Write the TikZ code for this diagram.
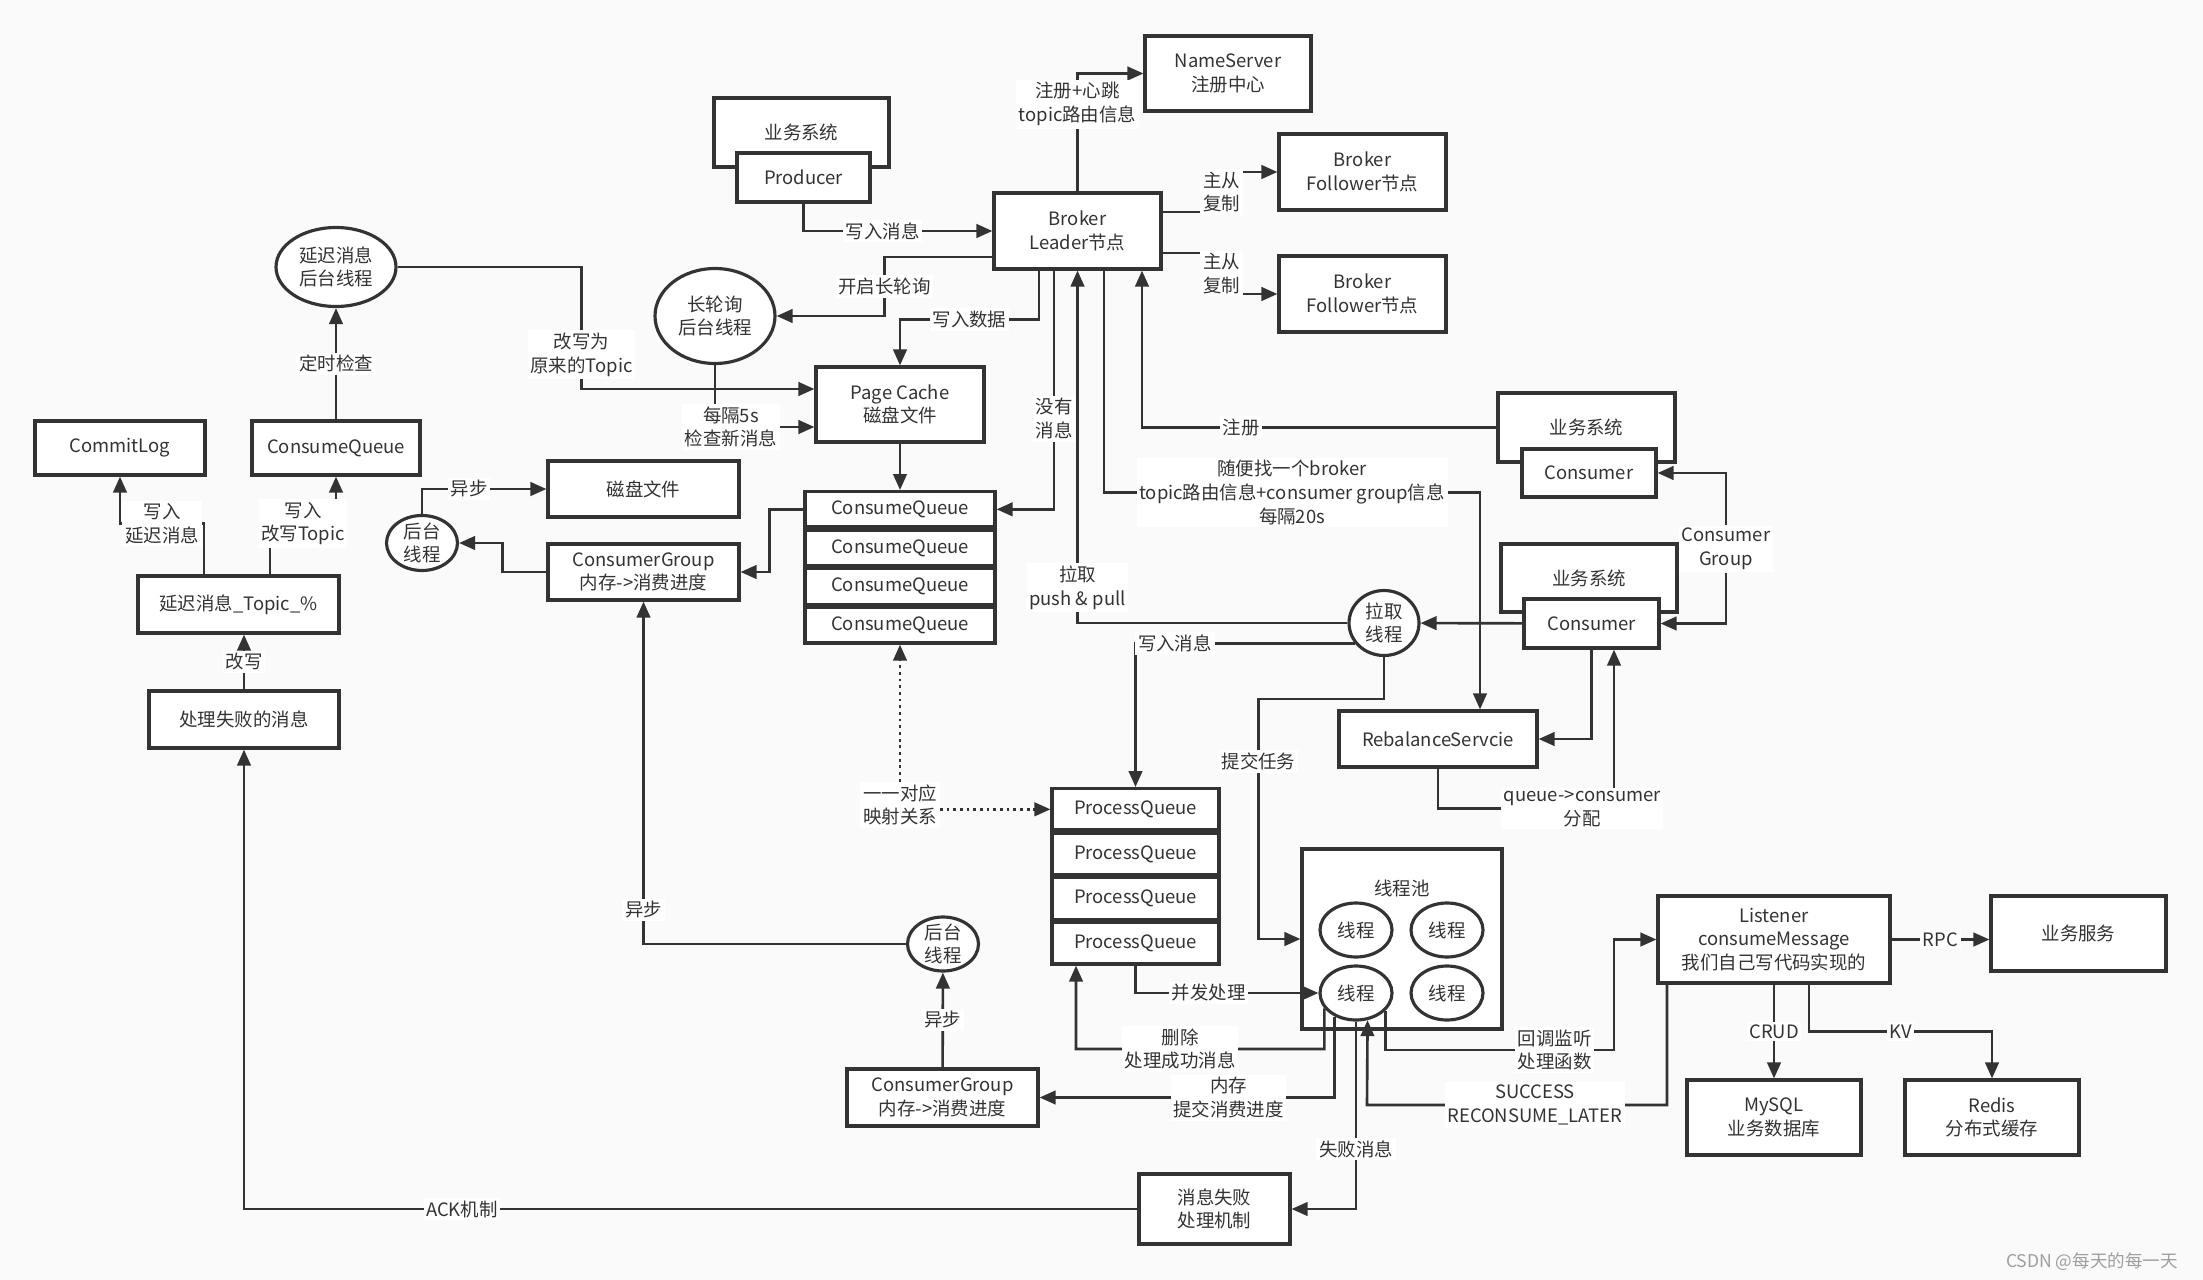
\documentclass[tikz,border=0pt]{standalone}
\usepackage{fontspec}
\setmainfont{Noto Sans CJK SC}
\usepackage{tikz}
\usetikzlibrary{arrows.meta, positioning, shapes.geometric, calc}
\definecolor{mqink}{HTML}{333333}
\definecolor{mqpaper}{HTML}{FAFAFA}
\tikzset{
  mqbox/.style={draw=mqink, fill=white, line width=1.8pt, align=center, inner sep=2pt},
  mqthread/.style={ellipse, draw=mqink, fill=white, line width=1.8pt, align=center, inner sep=0pt},
  mqsmall/.style={mqthread, inner sep=-3pt},
  mqlabel/.style={fill=white, align=center, inner sep=1.5pt},
  mqflow/.style={draw=mqink, line width=1.5pt, -{Triangle[length=0.32cm, width=0.27cm]}},
  mqdots/.style={mqflow, dash pattern=on 1.6pt off 2.2pt},
}

\begin{document}
\begin{tikzpicture}[x=0.02cm, y=-0.02cm, font=\fontsize{10.5}{13.5}\selectfont, text=mqink]
    \fill[mqpaper] (0,0) rectangle (2203,1280);

    % Producer side and broker
    \node[mqbox, minimum width=3.5cm, minimum height=1.38cm] (bizprod) at (801.5,132.5) {业务系统};
    \node[mqbox, minimum width=2.66cm, minimum height=0.98cm] (producer) at (803.5,177.5) {Producer};
    \node[mqbox, minimum width=3.32cm, minimum height=1.5cm] (namesrv) at (1228,73.5) {NameServer\\注册中心};
    \node[mqbox, minimum width=3.34cm, minimum height=1.52cm] (leader) at (1077.5,231) {Broker\\Leader节点};
    \node[mqbox, minimum width=3.34cm, minimum height=1.52cm] (follower1) at (1362.5,172) {Broker\\Follower节点};
    \node[mqbox, minimum width=3.34cm, minimum height=1.52cm] (follower2) at (1362.5,294) {Broker\\Follower节点};

    % Store
    \node[mqthread, minimum width=2.4cm, minimum height=1.58cm] (delaythr) at (336,267) {延迟消息\\后台线程};
    \node[mqthread, minimum width=2.4cm, minimum height=1.9cm] (pollthr) at (715,316) {长轮询\\后台线程};
    \node[mqbox, minimum width=3.36cm, minimum height=1.5cm] (pagecache) at (900,404.5) {Page Cache\\磁盘文件};
    \node[mqbox, minimum width=3.8cm, minimum height=0.71cm, anchor=north] (cq1) at (900,490) {ConsumeQueue};
    \node[mqbox, minimum width=3.8cm, minimum height=0.71cm, below=0pt of cq1] (cq2) {ConsumeQueue};
    \node[mqbox, minimum width=3.8cm, minimum height=0.71cm, below=0pt of cq2] (cq3) {ConsumeQueue};
    \node[mqbox, minimum width=3.8cm, minimum height=0.71cm, below=0pt of cq3] (cq4) {ConsumeQueue};
    \node[mqbox, minimum width=3.82cm, minimum height=1.12cm] (diskfile) at (643.5,489) {磁盘文件};
    \node[mqbox, minimum width=3.82cm, minimum height=1.12cm] (cgtop) at (643.5,572) {ConsumerGroup\\内存->消费进度};
    \node[mqsmall, minimum width=1.42cm, minimum height=1.1cm] (bgtop) at (422,543) {后台\\线程};

    % Delayed messages
    \node[mqbox, minimum width=3.4cm, minimum height=1.08cm] (commitlog) at (120,448) {CommitLog};
    \node[mqbox, minimum width=3.36cm, minimum height=1.08cm] (cqleft) at (336,448) {ConsumeQueue};
    \node[mqbox, minimum width=4.02cm, minimum height=1.14cm] (delaytopic) at (238.5,604.5) {延迟消息\_Topic\_\%};
    \node[mqbox, minimum width=3.8cm, minimum height=1.14cm] (failmsg) at (244,719.5) {处理失败的消息};

    % Consumer side
    \node[mqbox, minimum width=3.54cm, minimum height=1.38cm] (bizcons1) at (1586.5,427.5) {业务系统};
    \node[mqbox, minimum width=2.68cm, minimum height=0.96cm] (consumer1) at (1589,473) {Consumer};
    \node[mqbox, minimum width=3.52cm, minimum height=1.36cm] (bizcons2) at (1589,578) {业务系统};
    \node[mqbox, minimum width=2.7cm, minimum height=0.98cm] (consumer2) at (1591.5,623.5) {Consumer};
    \node[mqlabel] (cglbl) at (1726,549) {Consumer\\Group};
    \node[mqsmall, minimum width=1.4cm, minimum height=1.3cm] (pullthr) at (1384,623) {拉取\\线程};
    \node[mqbox, minimum width=3.96cm, minimum height=1.12cm] (rebalance) at (1438,739) {RebalanceServcie};
    \node[mqbox, minimum width=3.34cm, minimum height=0.83cm, anchor=north] (pq1) at (1135.5,787) {ProcessQueue};
    \node[mqbox, minimum width=3.34cm, minimum height=0.83cm, below=0pt of pq1] (pq2) {ProcessQueue};
    \node[mqbox, minimum width=3.34cm, minimum height=0.83cm, below=0pt of pq2] (pq3) {ProcessQueue};
    \node[mqbox, minimum width=3.34cm, minimum height=0.83cm, below=0pt of pq3] (pq4) {ProcessQueue};
    \node[mqlabel] (maplbl) at (900,805) {一一对应\\映射关系};

    % Thread pool
    \node[mqbox, minimum width=4cm, minimum height=3.6cm] (pool) at (1402,939) {};
    \node (pooltitle) at (1402,888) {线程池};
    \node[mqthread, minimum width=1.44cm, minimum height=1.08cm] (t1) at (1356,930) {线程};
    \node[mqthread, minimum width=1.44cm, minimum height=1.08cm] (t2) at (1447,930) {线程};
    \node[mqthread, minimum width=1.44cm, minimum height=1.08cm] (t3) at (1356,993) {线程};
    \node[mqthread, minimum width=1.44cm, minimum height=1.08cm] (t4) at (1447,993) {线程};

    \node[mqbox, minimum width=4.64cm, minimum height=1.74cm] (listener) at (1774,939.5) {Listener\\consumeMessage\\我们自己写代码实现的};
    \node[mqbox, minimum width=3.5cm, minimum height=1.5cm] (bizsvc) at (2078.5,933.5) {业务服务};
    \node[mqbox, minimum width=3.48cm, minimum height=1.5cm] (mysql) at (1774,1117.5) {MySQL\\业务数据库};
    \node[mqbox, minimum width=3.48cm, minimum height=1.5cm] (redis) at (1992,1117.5) {Redis\\分布式缓存};
    \node[mqbox, minimum width=3.02cm, minimum height=1.4cm] (failmech) at (1214.5,1209) {消息失败\\处理机制};
    \node[mqbox, minimum width=3.82cm, minimum height=1.14cm] (cgbot) at (942.5,1097.5) {ConsumerGroup\\内存->消费进度};
    \node[mqsmall, minimum width=1.42cm, minimum height=1.08cm] (bgbot) at (943,944) {后台\\线程};

    \node[text=gray!75, font=\fontsize{10}{12}\selectfont] (watermark) at (2092,1262) {CSDN @每天的每一天};

    % Broker connections
    \draw[mqflow] (producer) |- node[mqlabel, pos=0.71] {写入消息} (leader);
    \draw[mqflow] (leader) |- node[mqlabel, pos=0.37] {注册+心跳\\topic路由信息} (namesrv);
    \draw[mqflow] ([yshift=0.38cm]leader.east) -- ++(59,0) |- node[mqlabel, pos=0.25] {主从\\复制} (follower1);
    \draw[mqflow] ([yshift=-0.44cm]leader.east) -- ++(59,0) |- node[mqlabel, pos=0.25] {主从\\复制} (follower2);
    \draw[mqflow] ([yshift=-0.52cm]leader.west) -- ++(-108,0) |- node[mqlabel, pos=0.25] {开启长轮询} (pollthr);
    \draw[mqflow] ([xshift=-0.77cm]leader.south) -- ++(0,49) -| node[mqlabel, pos=0.25] {写入数据} (pagecache);
    \draw[mqflow] (delaythr.east) -- ++(184,0) |- node[mqlabel, pos=0.36] {改写为\\原来的Topic} ([yshift=0.31cm]pagecache.west);
    \draw[mqflow] (pollthr.south) |- node[mqlabel, pos=0.58] {每隔5s\\检查新消息} ([yshift=-0.45cm]pagecache.west);
    \draw[mqflow] (pagecache) -- (cq1);
    \draw[mqflow] ([xshift=-0.47cm]leader.south) |- node[mqlabel, pos=0.31] {没有\\消息} (cq1.east);
    \draw[mqflow] (pullthr) -| node[mqlabel, pos=0.55] {拉取\\push \& pull} (leader);
    \draw[mqflow] (bizcons1) -| node[mqlabel, pos=0.36] {注册} ([xshift=1.29cm]leader.south);
    \draw[mqflow] ([xshift=0.53cm]leader.south) -- ++(0,222) -| node[mqlabel, pos=0.25] {随便找一个broker\\topic路由信息+consumer group信息\\每隔20s} ([xshift=0.84cm]rebalance.north);

    % Store internals
    \draw[mqflow] (cq1.west) -- ++(-34,0) |- (cgtop);
    \draw[mqflow] (cgtop.west) -- ++(-44,0) |- (bgtop);
    \draw[mqflow] (bgtop) |- node[mqlabel, pos=0.69] {异步} (diskfile);
    \draw[mqflow] (bgbot) -| node[mqlabel, pos=0.55] {异步} (cgtop);
    \draw[mqflow] (cgbot) -- node[mqlabel] {异步} (bgbot);

    % Delayed messages
    \draw[mqflow] (cqleft) -- node[mqlabel] {定时检查} (delaythr);
    \draw[mqflow] ([xshift=-0.69cm]delaytopic.north) -- ++(0,-51) -| node[mqlabel, pos=0.25] {写入\\延迟消息} (commitlog);
    \draw[mqflow] ([xshift=0.63cm]delaytopic.north) -- ++(0,-51) -| node[mqlabel, pos=0.25] {写入\\改写Topic} (cqleft);
    \draw[mqflow] (failmsg) -- node[mqlabel] {改写} (failmsg.north |- delaytopic.south);
    \draw[mqflow] (failmech) -| node[mqlabel, pos=0.378] {ACK机制} (failmsg);

    % Consumer side
    \draw[mqflow] (cglbl) |- (consumer1);
    \draw[mqflow] (cglbl) |- (consumer2);
    \draw[mqflow] (consumer2) -- (pullthr);
    \draw[mqflow] (consumer2) |- (rebalance);
    \draw[mqflow] (rebalance.south) -- ++(0,40) -| node[mqlabel, pos=0.41] {queue->consumer\\分配} ([xshift=0.45cm]consumer2.south);
    \draw[mqflow] (pullthr.215) -| node[mqlabel, pos=0.41] {写入消息} (pq1);
    \draw[mqflow] (pullthr.south) -- ++(0,42) -| node[mqlabel, pos=0.63] {提交任务} ([xshift=-0.84cm]pool.west) -- (pool.west);
    \draw[mqdots] (maplbl) -- (cq4);
    \draw[mqdots] (maplbl.east |- pq1.west) -- (pq1.west);

    % Thread pool
    \draw[mqflow] (pq4) |- node[mqlabel, pos=0.7] {并发处理} (t3);
    \draw[mqflow] (t3.206) |- node[mqlabel, pos=0.79] {删除\\处理成功消息} (1076,1049) -- ([xshift=-1.19cm]pq4.south);
    \draw[mqflow] (t3.228) |- node[mqlabel, pos=0.68] {内存\\提交消费进度} (cgbot);
    \draw[mqflow] (t3) |- node[mqlabel, pos=0.34] {失败消息} (failmech);
    \draw[mqflow] ([xshift=-2.14cm]listener.south) |- node[mqlabel, pos=0.72] {SUCCESS\\RECONSUME\_LATER} (1367,1105) -- (t3.293);
    \draw[mqflow] (t3.329) |- node[mqlabel, pos=0.87] {回调监听\\处理函数} (1614,1050) |- (listener);

    % Listener
    \draw[mqflow] (listener.east) -- node[mqlabel] {RPC} (listener.east -| bizsvc.west);
    \draw[mqflow] (listener) -- node[mqlabel] {CRUD} (mysql);
    \draw[mqflow] ([xshift=0.7cm]listener.south) -- ++(0,47) -| node[mqlabel, pos=0.25] {KV} (redis);
\end{tikzpicture}
\end{document}
